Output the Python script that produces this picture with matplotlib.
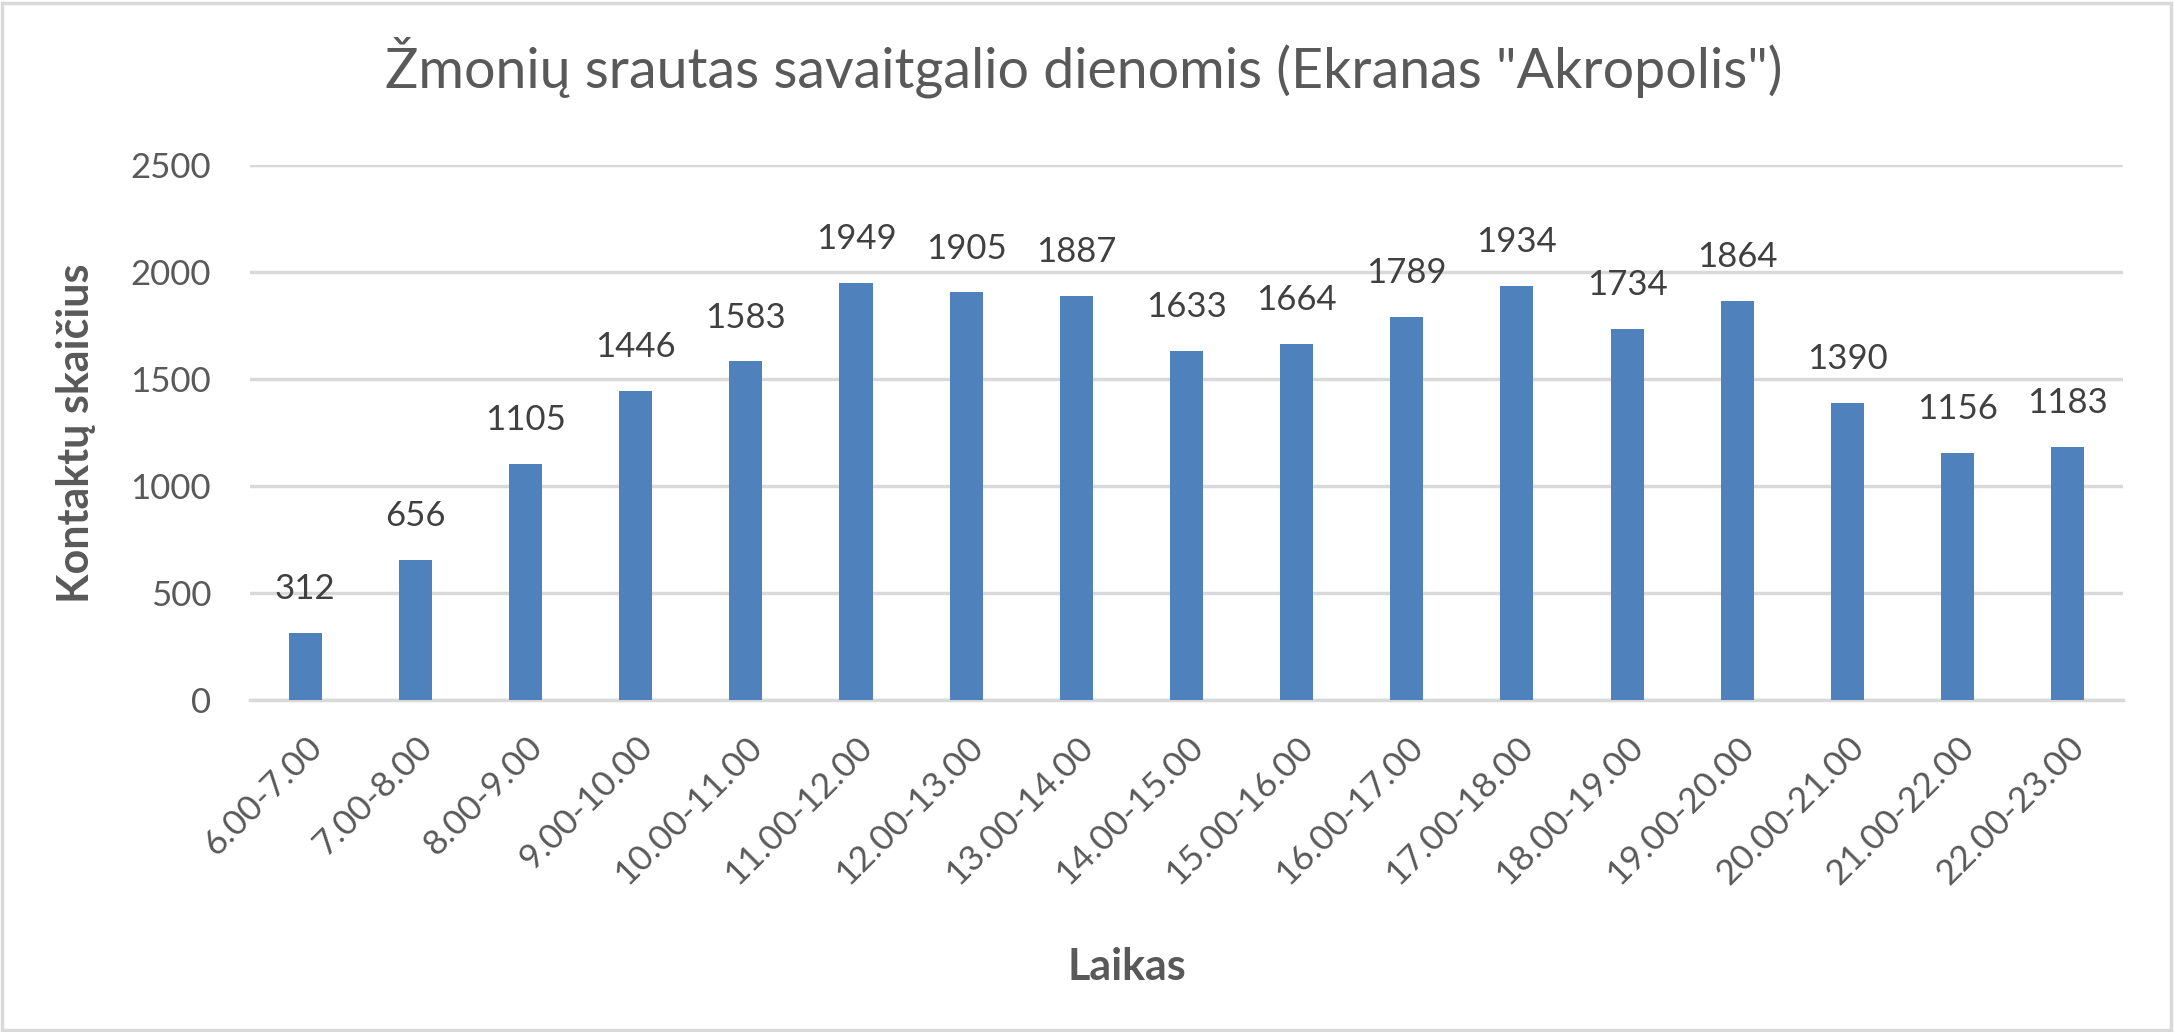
import numpy as np
import matplotlib
matplotlib.use("Agg")
from matplotlib import pyplot as plt
from matplotlib.patches import Rectangle

plt.rcParams['font.family'] = ['Lato', 'DejaVu Sans']

# duomenys
laikai = ['6.00-7.00', '7.00-8.00', '8.00-9.00', '9.00-10.00', '10.00-11.00',
          '11.00-12.00', '12.00-13.00', '13.00-14.00', '14.00-15.00', '15.00-16.00',
          '16.00-17.00', '17.00-18.00', '18.00-19.00', '19.00-20.00', '20.00-21.00',
          '21.00-22.00', '22.00-23.00']
kontaktai = [312, 656, 1105, 1446, 1583, 1949, 1905, 1887, 1633, 1664,
             1789, 1934, 1734, 1864, 1390, 1156, 1183]
y_ticks = [0, 500, 1000, 1500, 2000, 2500]

txt = '#595959'
grid_c = '#d9d9d9'
bar_c = '#4f81bd'

fig = plt.figure(figsize=(21.75, 10.32), dpi=100)
fig.patch.set_facecolor('white')
fig.patches.append(Rectangle((0.001, 0.002), 0.997, 0.995, transform=fig.transFigure,
                             fill=False, edgecolor=grid_c, linewidth=2.5))

ax = fig.add_axes([0.115, 0.3217, 0.861, 0.5183])
x = np.arange(len(laikai))
bars = ax.bar(x, kontaktai, width=0.3, color=bar_c, zorder=3)

for xi, v in zip(x, kontaktai):
    ax.annotate(str(v), (xi, v), xytext=(0, 20), textcoords='offset points',
                ha='center', va='bottom', fontsize=25, color='#404040')

ax.set_xlim(-0.5, len(laikai) - 0.5)
ax.set_ylim(0, 2500)
ax.set_yticks(y_ticks)
ax.set_yticklabels([str(t) for t in y_ticks], fontsize=25, color=txt)
ax.set_xticks(x)
ax.set_xticklabels(laikai, rotation=45, ha='right', rotation_mode='anchor',
                   fontsize=25.5, color=txt)
ax.tick_params(axis='both', length=0)
ax.tick_params(axis='x', pad=22)
ax.tick_params(axis='y', pad=28)

ax.grid(axis='y', color=grid_c, linewidth=2.5, zorder=0)
ax.set_axisbelow(True)
for s in ['top', 'right', 'left']:
    ax.spines[s].set_visible(False)
ax.spines['bottom'].set_color(grid_c)
ax.spines['bottom'].set_linewidth(2.5)

fig.text(0.4985, 0.935, 'Žmonių srautas savaitgalio dienomis (Ekranas "Akropolis")',
         ha='center', va='center', fontsize=40, color=txt)
fig.text(0.035, 0.58, 'Kontaktų skaičius', rotation=90, ha='center', va='center',
         fontsize=31, fontweight='bold', color=txt)
fig.text(0.518, 0.063, 'Laikas', ha='center', va='center',
         fontsize=31, fontweight='bold', color=txt)

fig.savefig('out.png', dpi=100)
